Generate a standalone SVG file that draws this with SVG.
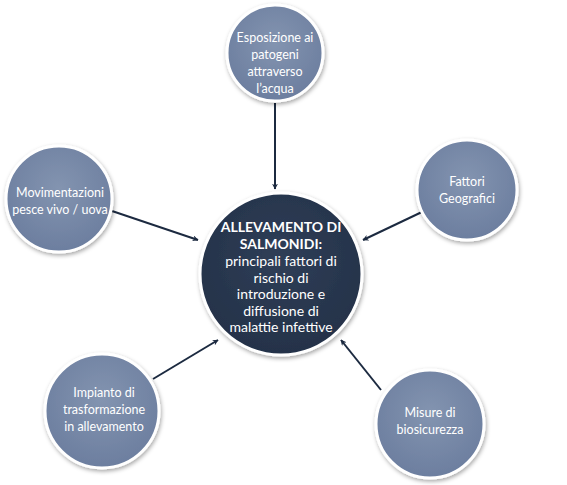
<svg xmlns="http://www.w3.org/2000/svg" width="567" height="485" viewBox="0 0 567 485">
<defs>
<radialGradient id="g" cx="50%" cy="40%" r="60%">
<stop offset="0" stop-color="#8394b0"/>
<stop offset="1" stop-color="#6c7e9f"/>
</radialGradient>
<radialGradient id="gc" cx="50%" cy="40%" r="60%">
<stop offset="0" stop-color="#2f3e57"/>
<stop offset="1" stop-color="#243249"/>
</radialGradient>
<filter id="sh" x="-20%" y="-20%" width="140%" height="140%">
<feDropShadow dx="1" dy="2" stdDeviation="2" flood-color="#000" flood-opacity="0.35"/>
</filter>
<marker id="ah" viewBox="0 0 10 10" refX="9" refY="5" markerWidth="6" markerHeight="6" orient="auto" markerUnits="userSpaceOnUse">
<path d="M0,0 L10,5 L0,10 L3,5 z" fill="#1c2a40"/>
</marker>
</defs>
<style>
.o{fill:url(#g);stroke:#ffffff;stroke-width:3;filter:url(#sh)}
.c{fill:url(#gc);stroke:#ffffff;stroke-width:3;filter:url(#sh)}
.t{font-family:Lato,"Liberation Sans",sans-serif;font-size:12.5px;fill:#ffffff;text-anchor:middle}
.ct{font-family:Lato,"Liberation Sans",sans-serif;font-size:14px;fill:#ffffff;text-anchor:middle}
.b{font-weight:bold}
.l{stroke:#1c2a40;stroke-width:2;fill:none;marker-end:url(#ah)}
</style>
<g id="connectors">
<line class="l" x1="275" y1="103" x2="275" y2="189"/>
<line class="l" x1="112" y1="211" x2="198" y2="240"/>
<line class="l" x1="424" y1="211" x2="363" y2="240"/>
<line class="l" x1="153" y1="379" x2="218" y2="340"/>
<line class="l" x1="381" y1="390" x2="341" y2="340"/>
</g>
<g id="center">
<circle class="c" cx="281" cy="274" r="81"/>
<text class="ct b" x="281" y="232">ALLEVAMENTO DI</text>
<text class="ct b" x="281" y="249">SALMONIDI:</text>
<text class="ct" x="281" y="266">principali fattori di</text>
<text class="ct" x="281" y="283">rischio di</text>
<text class="ct" x="281" y="299">introduzione e</text>
<text class="ct" x="281" y="316">diffusione di</text>
<text class="ct" x="281" y="332">malattie infettive</text>
</g>
<g id="top">
<circle class="o" cx="275" cy="53" r="48"/>
<text class="t" x="275" y="42">Esposizione ai</text>
<text class="t" x="275" y="59">patogeni</text>
<text class="t" x="275" y="76">attraverso</text>
<text class="t" x="275" y="93">l’acqua</text>
</g>
<g id="left">
<circle class="o" cx="59" cy="199" r="53"/>
<text class="t" x="60" y="197">Movimentazioni</text>
<text class="t" x="60" y="214">pesce vivo / uova</text>
</g>
<g id="right">
<circle class="o" cx="467" cy="190" r="50"/>
<text class="t" x="467" y="186">Fattori</text>
<text class="t" x="467" y="203">Geografici</text>
</g>
<g id="bottomleft">
<circle class="o" cx="102" cy="411" r="57"/>
<text class="t" x="104" y="397">Impianto di</text>
<text class="t" x="104" y="414">trasformazione</text>
<text class="t" x="104" y="431">in allevamento</text>
</g>
<g id="bottomright">
<circle class="o" cx="430" cy="424" r="54"/>
<text class="t" x="430" y="417">Misure di</text>
<text class="t" x="430" y="434">biosicurezza</text>
</g>
</svg>
